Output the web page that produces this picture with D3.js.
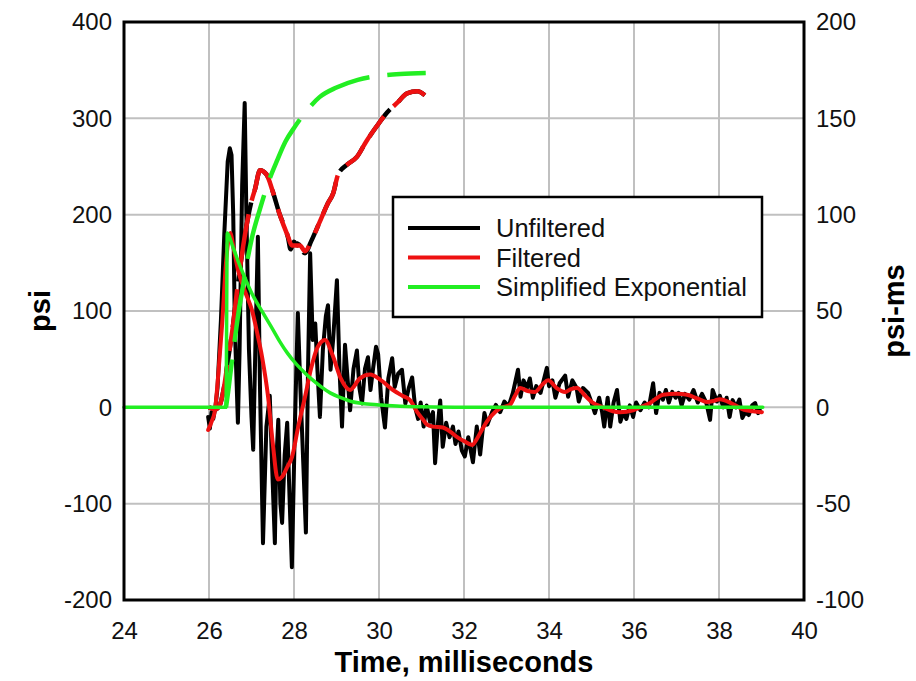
<!DOCTYPE html>
<html>
    <head>
        <meta charset="utf-8" />
        <script src="https://d3js.org/d3.v7.min.js"></script>
        <style>
            body { margin: 0; background: #fff; }
            text { font-family: 'Liberation Sans', Arial, sans-serif; }
        </style>
    </head>
    <body>
        <svg width="916" height="681"></svg>
        <script>
            // time (ms), pressure (psi)
            const unfiltered = [
                [25.98,-10],[26.02,-22],[26.06,-5],[26.10,-12],[26.15,0],[26.20,20],[26.28,90],[26.36,180],[26.44,255],[26.49,269],
                [26.53,262],[26.57,200],[26.61,80],[26.68,-16],[26.72,60],[26.78,230],[26.84,316],[26.88,200],[26.94,60],[27.00,-10],[27.04,-44],
                [27.09,60],[27.15,177],[27.20,20],[27.27,-141],[27.35,-20],[27.43,12],[27.50,-80],[27.55,-141],[27.58,-60],[27.63,-13],
                [27.68,-100],[27.72,-120],[27.78,-50],[27.84,-16],[27.90,-100],[27.95,-166],[28.02,-20],[28.09,98],[28.15,20],[28.22,-60],
                [28.28,-130],[28.33,40],[28.38,160],[28.44,70],[28.50,87],[28.55,40],[28.61,-10],[28.68,60],[28.75,95],[28.80,106],
                [28.86,39],[28.92,70],[29.01,132],[29.07,40],[29.13,-20],[29.20,65],[29.26,30],[29.32,-3],[29.40,40],[29.48,59],
                [29.54,20],[29.60,4],[29.67,40],[29.74,52],[29.80,18],[29.86,40],[29.93,63],[29.98,55],[30.05,10],[30.14,-21],
                [30.22,30],[30.31,51],[30.37,21],[30.45,35],[30.54,39],[30.62,4],[30.70,20],[30.78,31],[30.85,0],[30.92,-12],
                [30.98,5],[31.05,-20],[31.12,2],[31.20,-15],[31.27,-5],[31.32,-58],[31.38,-20],[31.44,7],[31.50,-41],[31.58,-16],
                [31.66,-31],[31.74,-20],[31.80,-38],[31.87,-25],[31.95,-45],[32.02,-51],[32.10,-31],[32.21,-57],[32.30,-20],[32.38,-49],
                [32.48,-6],[32.55,-18],[32.66,-5],[32.75,2.5],[32.85,-5],[32.95,6],[33.05,1],[33.15,15],[33.27,39],[33.33,11],
                [33.40,28],[33.48,20],[33.55,30],[33.62,10],[33.70,22],[33.80,15],[33.95,41],[34.00,22],[34.08,28],[34.15,10],
                [34.25,25],[34.38,33],[34.45,11],[34.55,28],[34.65,20],[34.70,6],[34.80,20],[34.92,15],[35.00,5],[35.08,-6],
                [35.18,10],[35.25,-5],[35.30,-20],[35.38,10],[35.44,-20],[35.52,5],[35.60,18],[35.68,-15],[35.75,-5],[35.82,-12],
                [35.90,2],[35.98,-10],[36.05,5],[36.15,-3],[36.25,5],[36.35,0],[36.45,25],[36.52,-6],[36.60,15],[36.68,8],
                [36.75,18],[36.82,5],[36.90,16],[36.98,10],[37.05,15],[37.12,2],[37.20,14],[37.30,8],[37.40,18],[37.50,5],
                [37.60,14],[37.70,5],[37.79,-13],[37.85,18],[37.95,6],[38.02,12],[38.10,0],[38.18,10],[38.25,-10],[38.32,7.5],
                [38.40,0],[38.48,8],[38.55,-11],[38.62,-5],[38.70,-8],[38.78,2],[38.85,4.5],[38.92,-6],[38.96,-3]
            ]

            const filtered = [
                [25.98,-23.5],[26.06,-15],[26.14,-3],[26.22,35],[26.31,87],[26.40,150],[26.50,181],[26.58,165],[26.68,143],[26.85,120],
                [27.01,101],[27.13,78],[27.25,52],[27.39,11],[27.50,-37],[27.62,-75],[27.72,-72],[27.84,-62],[27.95,-52],[28.10,-20],
                [28.26,11],[28.40,40],[28.55,62],[28.73,70],[28.90,55],[29.10,30],[29.32,18],[29.55,30],[29.79,34],[30.05,28],
                [30.33,18],[30.55,12],[30.73,7.5],[30.90,-5],[31.04,-13],[31.13,-18],[31.27,-20],[31.50,-21],[31.70,-26],[31.84,-31],
                [32.00,-35],[32.19,-39],[32.30,-33],[32.42,-23.5],[32.55,-14],[32.66,-8],[32.85,-1],[33.08,2.5],[33.20,12],[33.32,20],
                [33.50,17],[33.67,16],[33.85,24],[33.98,28],[34.18,20],[34.38,16],[34.52,19],[34.66,20],[34.85,12],[35.01,5.5],
                [35.27,0],[35.50,-4],[35.67,-5],[35.98,-3],[36.20,1],[36.38,4.5],[36.55,10],[36.68,13],[37.00,14],[37.25,13],
                [37.50,9],[37.72,5.5],[37.90,7],[38.02,8.5],[38.30,4],[38.56,-2],[38.80,-4],[39.01,-5]
            ]

            const exponential = [
                [24,0],[26.40,0],[26.43,181],[26.55,168],[26.70,150],[26.85,134],[27.00,119],[27.27,98],[27.50,81],[27.67,68],
                [27.85,56],[28.07,44],[28.25,36],[28.45,28],[28.65,21],[28.85,15],[29.10,10],[29.35,6],[29.60,4],[30.00,2.5],
                [30.50,1],[31.00,0.5],[32.00,0],[39.03,0]
            ]

            // time (ms), impulse (psi-ms)
            const impulseUnfiltered = [
                [26.00,0],[26.15,-1],[26.25,1],[26.35,10],[26.45,25],[26.55,40],[26.68,64],[26.85,90],[27.00,107],[27.08,113],
                [27.20,123],[27.35,121],[27.50,112],[27.65,101],[27.86,88],[27.92,82],[28.00,86],[28.08,84],[28.14,86],[28.20,81],
                [28.26,80],[28.40,86],[28.60,96],[28.80,106],[28.92,111],[29.04,121],[29.25,126],[29.48,130],[29.70,138],[29.95,146],
                [30.19,153],[30.45,158.5],[30.66,163],[30.90,164],[31.08,162]
            ]

            const impulseFiltered = [
                [26.00,0],[26.15,-1],[26.25,1],[26.35,10],[26.45,25],[26.55,40],[26.68,64],[26.85,90],[27.00,107],[27.08,113],
                [27.20,123],[27.35,121],[27.50,112],[27.65,101],[27.86,88.6],[27.95,84],[28.14,84],[28.26,81],[28.40,86],[28.60,96],
                [28.80,106],[28.92,111],[29.04,121],[29.25,126],[29.48,130],[29.70,138],[29.95,146],[30.19,153],[30.45,158.5],[30.66,163],
                [30.90,164],[31.08,162]
            ]

            const impulseExponential = [
                [26.40,0],[26.45,8],[26.50,17],[26.60,34],[26.70,50],[26.80,63],[26.90,76],[27.00,87],[27.20,103],[27.40,117],
                [27.60,128],[27.80,138],[28.00,145],[28.30,154],[28.60,161],[29.00,166],[29.50,170],[30.00,172],[30.50,173],[31.10,173.5]
            ]

            const xTicks = [24, 26, 28, 30, 32, 34, 36, 38, 40]
            const yTicks = [-200, -100, 0, 100, 200, 300, 400]
            const y2Ticks = [-100, -50, 0, 50, 100, 150, 200]
            const legendNames = ['Unfiltered', 'Filtered', 'Simplified Exponential']
            const legendColors = ['#000000', '#ee1111', '#22ee22']

            const pLeft = 124, pRight = 804, pTop = 22, pBottom = 600
            const svg = d3.select('svg')

            const x = d3.scaleLinear().domain([24, 40]).range([pLeft, pRight])
            const y = d3.scaleLinear().domain([-200, 400]).range([pBottom, pTop])
            const y2 = d3.scaleLinear().domain([-100, 200]).range([pBottom, pTop])

            // grid
            svg.append('g')
                .selectAll('line')
                .data(xTicks.slice(1, -1))
                .enter()
                .append('line')
                .attr('x1', (d) => x(d)).attr('x2', (d) => x(d))
                .attr('y1', pTop).attr('y2', pBottom)
                .style('stroke', '#c0c0c0').style('stroke-width', 2)
            svg.append('g')
                .selectAll('line')
                .data(yTicks.slice(1, -1))
                .enter()
                .append('line')
                .attr('x1', pLeft).attr('x2', pRight)
                .attr('y1', (d) => y(d)).attr('y2', (d) => y(d))
                .style('stroke', '#c0c0c0').style('stroke-width', 2)

            // axes (labels only, frame drawn separately)
            const fmt = (d) => String(d)
            const xAxis = svg.append('g')
                .attr('transform', `translate(0,${pBottom})`)
                .call(d3.axisBottom(x).tickValues(xTicks).tickFormat(fmt).tickSize(0).tickPadding(22))
            const yAxis = svg.append('g')
                .attr('transform', `translate(${pLeft},0)`)
                .call(d3.axisLeft(y).tickValues(yTicks).tickFormat(fmt).tickSize(0).tickPadding(12))
            const y2Axis = svg.append('g')
                .attr('transform', `translate(${pRight},0)`)
                .call(d3.axisRight(y2).tickValues(y2Ticks).tickFormat(fmt).tickSize(0).tickPadding(12))
            ;[xAxis, yAxis, y2Axis].forEach((g) => {
                g.select('.domain').remove()
                g.selectAll('text')
                    .style('font-size', '24px')
                    .style('font-family', "'Liberation Sans', Arial, sans-serif")
                    .attr('fill', '#111')
            })

            const line = d3.line().x((d) => x(d[0])).y((d) => y(d[1]))
            const smooth = d3.line().curve(d3.curveMonotoneX).x((d) => x(d[0])).y((d) => y(d[1]))
            const smooth2 = d3.line().curve(d3.curveMonotoneX).x((d) => x(d[0])).y((d) => y2(d[1]))

            function draw(data, gen, color, width, dash, offset) {
                svg.append('path')
                    .datum(data)
                    .attr('d', gen)
                    .style('fill', 'none')
                    .style('stroke', color)
                    .style('stroke-width', width)
                    .style('stroke-linejoin', 'round')
                    .style('stroke-linecap', dash ? 'butt' : 'round')
                    .style('stroke-dasharray', dash || null)
                    .style('stroke-dashoffset', offset || 0)
            }

            draw(unfiltered, line, legendColors[0], 4)
            draw(impulseUnfiltered, smooth2, legendColors[0], 4.5, '34,12', 0)
            draw(filtered, smooth, legendColors[1], 4)
            draw(impulseFiltered, smooth2, legendColors[1], 4.5, '62,14', 8)
            draw(exponential, smooth, legendColors[2], 3.5)
            draw(impulseExponential, smooth2, legendColors[2], 4.5, '66,18', 18)

            // frame
            svg.append('rect')
                .attr('x', pLeft).attr('y', pTop)
                .attr('width', pRight - pLeft).attr('height', pBottom - pTop)
                .style('fill', 'none').style('stroke', '#000').style('stroke-width', 3)

            // legend
            const lg = svg.append('g')
            lg.append('rect')
                .attr('x', 393).attr('y', 197).attr('width', 369).attr('height', 120)
                .style('fill', '#fff').style('stroke', '#000').style('stroke-width', 2.5)
            legendNames.forEach((name, i) => {
                const ly = 228 + i * 29.5
                lg.append('line')
                    .attr('x1', 408).attr('x2', 480).attr('y1', ly).attr('y2', ly)
                    .style('stroke', legendColors[i]).style('stroke-width', 4)
                lg.append('text')
                    .attr('x', 496).attr('y', ly + 9)
                    .style('font-size', '25.5px')
                    .attr('fill', '#111')
                    .text(name)
            })

            // titles
            svg.append('text')
                .attr('x', (pLeft + pRight) / 2).attr('y', 672)
                .attr('text-anchor', 'middle')
                .style('font-size', '29px').style('font-weight', 'bold')
                .text('Time, milliseconds')
            svg.append('text')
                .attr('transform', `translate(50,${(pTop + pBottom) / 2}) rotate(-90)`)
                .attr('text-anchor', 'middle')
                .style('font-size', '29px').style('font-weight', 'bold')
                .text('psi')
            svg.append('text')
                .attr('transform', `translate(904,${(pTop + pBottom) / 2}) rotate(-90)`)
                .attr('text-anchor', 'middle')
                .style('font-size', '29px').style('font-weight', 'bold')
                .text('psi-ms')
        </script>
    </body>
</html>
